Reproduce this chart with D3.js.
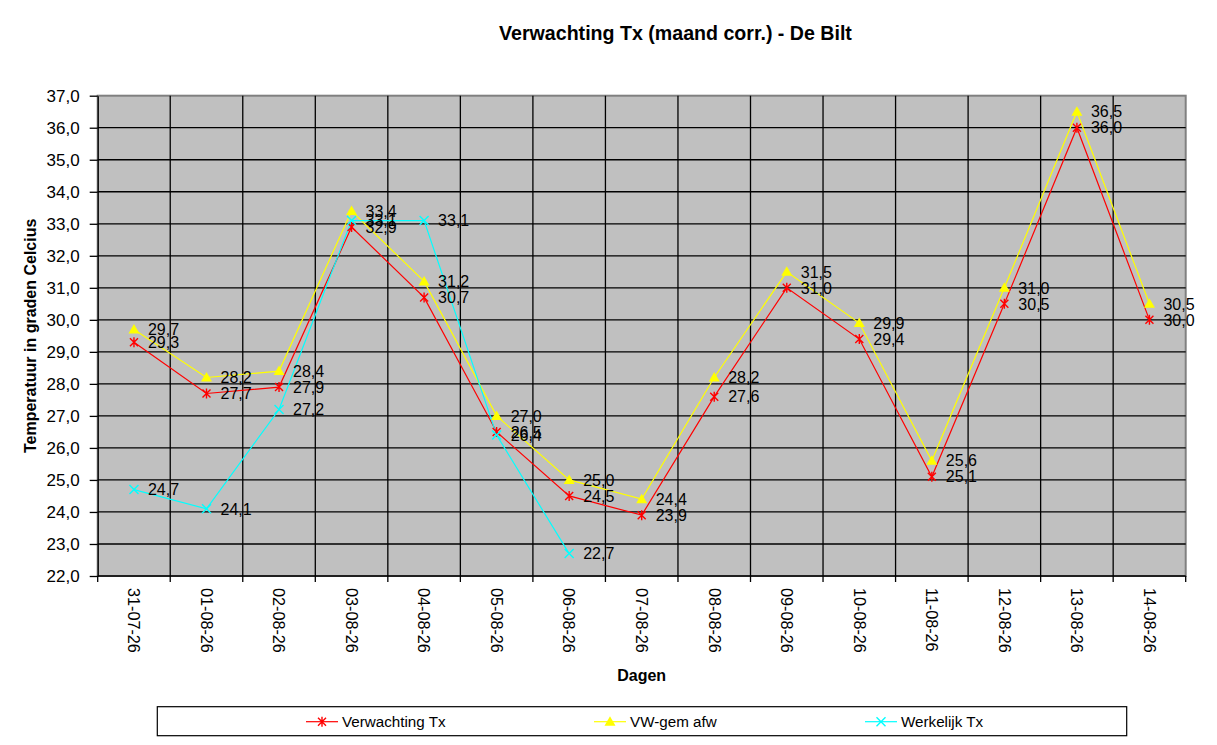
<!DOCTYPE html>
<html>
<head>
<meta charset="utf-8">
<script src="https://cdn.jsdelivr.net/npm/d3@7"></script>
<style>
  html, body { margin: 0; padding: 0; background: #fff; }
  svg { display: block; font-family: "Liberation Sans", Arial, sans-serif; }
</style>
</head>
<body>
<svg id="chart" width="1217" height="745"></svg>
<script>
const categories = ["31-07-26","01-08-26","02-08-26","03-08-26","04-08-26","05-08-26","06-08-26","07-08-26","08-08-26","09-08-26","10-08-26","11-08-26","12-08-26","13-08-26","14-08-26"];
const verwachtingTx = [29.3, 27.7, 27.9, 32.9, 30.7, 26.5, 24.5, 23.9, 27.6, 31.0, 29.4, 25.1, 30.5, 36.0, 30.0];
const vwGemAfw = [29.7, 28.2, 28.4, 33.4, 31.2, 27.0, 25.0, 24.4, 28.2, 31.5, 29.9, 25.6, 31.0, 36.5, 30.5];
const werkelijkTx = [24.7, 24.1, 27.2, 33.1, 33.1, 26.4, 22.7, null, null, null, null, null, null, null, null];
const yTicks = [22, 23, 24, 25, 26, 27, 28, 29, 30, 31, 32, 33, 34, 35, 36, 37];
const seriesNames = ["Verwachting Tx", "VW-gem afw", "Werkelijk Tx"];

const svg = d3.select("#chart");
const L = 97.7, R = 1185.7, T = 95.7, B = 576;

const x = d3.scaleBand().domain(categories).range([L, R]);
const y = d3.scaleLinear().domain([22, 37]).range([B, T]);
const fmt = v => v.toFixed(1).replace(".", ",");

// Title
svg.append("text").attr("x", 675.5).attr("y", 40).attr("text-anchor", "middle")
  .attr("font-weight", "bold").attr("font-size", "19.6px").text("Verwachting Tx (maand corr.) - De Bilt");

// Plot background
svg.append("rect").attr("x", L).attr("y", T).attr("width", R - L).attr("height", B - T)
  .attr("fill", "#C0C0C0").attr("stroke", "#808080").attr("stroke-width", 2);

// Horizontal grid
svg.append("g").selectAll("line").data(yTicks.filter(t => t > 22 && t < 37)).join("line")
  .attr("x1", L).attr("x2", R).attr("y1", d => y(d)).attr("y2", d => y(d))
  .attr("stroke", "#000").attr("stroke-width", 1.3);

// Vertical grid at band boundaries
const bounds = categories.map(c => x(c)).concat([x.range()[1]]);
svg.append("g").selectAll("line").data(bounds.slice(1, -1)).join("line")
  .attr("x1", d => d).attr("x2", d => d).attr("y1", T).attr("y2", B)
  .attr("stroke", "#000").attr("stroke-width", 1.3);

// Y axis
const yAxis = d3.axisLeft(y).tickValues(yTicks).tickFormat(fmt).tickSize(8).tickSizeOuter(0).tickPadding(10);
const gy = svg.append("g").attr("transform", `translate(${L},0)`).call(yAxis);
gy.select(".domain").attr("stroke", "#000").attr("stroke-width", 1.3);
gy.selectAll(".tick line").attr("stroke", "#000").attr("stroke-width", 1.3);
gy.selectAll(".tick text").attr("font-size", "17px").attr("fill", "#000")
  .attr("font-family", "'Liberation Sans', Arial, sans-serif");

// X axis line + ticks at boundaries
svg.append("line").attr("x1", L).attr("x2", R).attr("y1", B).attr("y2", B).attr("stroke", "#000").attr("stroke-width", 1.3);
svg.append("g").selectAll("line").data(bounds).join("line")
  .attr("x1", d => d).attr("x2", d => d).attr("y1", B).attr("y2", B + 6)
  .attr("stroke", "#000").attr("stroke-width", 1.3);
// Category labels rotated
svg.append("g").selectAll("text").data(categories).join("text")
  .attr("transform", d => `translate(${x(d) + x.bandwidth() / 2},588) rotate(90)`)
  .attr("dy", "0.35em").attr("text-anchor", "start").attr("font-size", "16.2px").text(d => d);

// Axis titles
svg.append("text").attr("transform", `translate(36,${(T + B) / 2}) rotate(-90)`)
  .attr("text-anchor", "middle").attr("font-weight", "bold").attr("font-size", "16px")
  .text("Temperatuur in graden Celcius");
svg.append("text").attr("x", (L + R) / 2).attr("y", 681).attr("text-anchor", "middle")
  .attr("font-weight", "bold").attr("font-size", "16px").text("Dagen");

// Markers
function asterisk(g, cx, cy, color, s) {
  const p = `M${cx - s},${cy - s}L${cx + s},${cy + s}M${cx - s},${cy + s}L${cx + s},${cy - s}M${cx},${cy - s - 1}L${cx},${cy + s + 1}`;
  g.append("path").attr("d", p).attr("stroke", color).attr("stroke-width", 1.4).attr("fill", "none");
}
function cross(g, cx, cy, color, s) {
  const p = `M${cx - s},${cy - s}L${cx + s},${cy + s}M${cx - s},${cy + s}L${cx + s},${cy - s}`;
  g.append("path").attr("d", p).attr("stroke", color).attr("stroke-width", 1.4).attr("fill", "none");
}
function triangle(g, cx, cy, color) {
  g.append("path").attr("d", `M${cx},${cy - 5.5}L${cx + 5.5},${cy + 4}L${cx - 5.5},${cy + 4}Z`).attr("fill", color);
}

const series = [
  { name: seriesNames[0], values: verwachtingTx, color: "#FF0000", marker: (g, cx, cy) => asterisk(g, cx, cy, "#FF0000", 4) },
  { name: seriesNames[1], values: vwGemAfw, color: "#FFFF00", marker: (g, cx, cy) => triangle(g, cx, cy, "#FFFF00") },
  { name: seriesNames[2], values: werkelijkTx, color: "#00FFFF", marker: (g, cx, cy) => cross(g, cx, cy, "#00FFFF", 4.5) }
];

const cx = c => x(c) + x.bandwidth() / 2;
const line = d3.line().defined(d => d.v != null).x(d => cx(d.c)).y(d => y(d.v));

series.forEach(s => {
  const pts = categories.map((c, i) => ({ c, v: s.values[i] }));
  svg.append("path").datum(pts).attr("d", line).attr("fill", "none").attr("stroke", s.color).attr("stroke-width", 1.2);
});
series.forEach(s => {
  const g = svg.append("g");
  categories.forEach((c, i) => { if (s.values[i] != null) s.marker(g, cx(c), y(s.values[i])); });
});
// Data labels
series.forEach(s => {
  const pts = categories.map((c, i) => ({ c, v: s.values[i] })).filter(d => d.v != null);
  svg.append("g").selectAll("text").data(pts).join("text")
    .attr("x", d => cx(d.c) + 14).attr("y", d => y(d.v)).attr("dy", "0.36em")
    .attr("font-size", "16px").attr("fill", "#000").text(d => fmt(d.v));
});

// Legend
svg.append("rect").attr("x", 157.3).attr("y", 706.7).attr("width", 1126.7 - 157.3).attr("height", 29)
  .attr("fill", "#fff").attr("stroke", "#000").attr("stroke-width", 1.2);
const legX = [306, 594, 865];
const ly = 721.7;
series.forEach((s, i) => {
  const g = svg.append("g");
  g.append("line").attr("x1", legX[i]).attr("x2", legX[i] + 32).attr("y1", ly).attr("y2", ly)
    .attr("stroke", s.color).attr("stroke-width", 1.2);
  s.marker(g, legX[i] + 16, ly);
  g.append("text").attr("x", legX[i] + 36).attr("y", ly).attr("dy", "0.36em")
    .attr("font-size", "15.2px").text(s.name);
});
</script>
</body>
</html>
